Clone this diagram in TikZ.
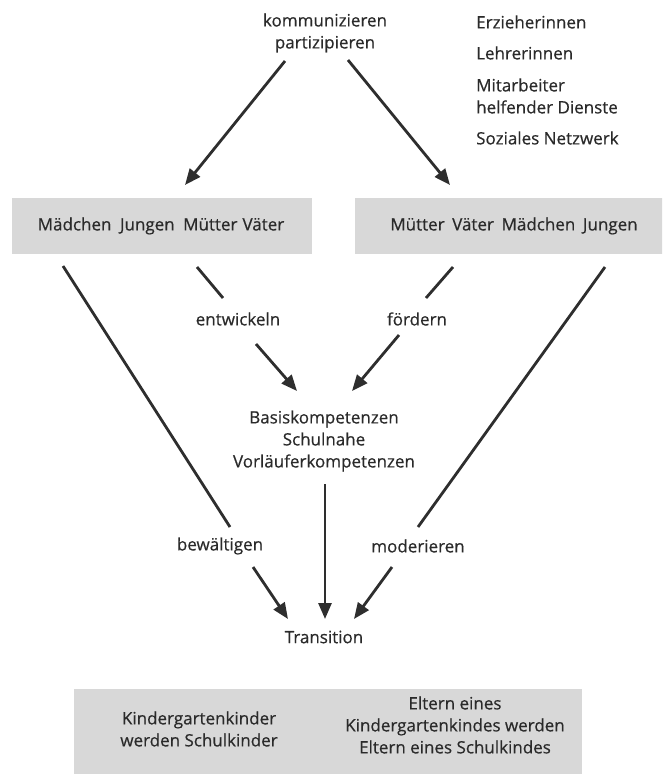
\documentclass[tikz,border=0pt]{standalone}
\usepackage{fontspec}
\setmainfont[FakeBold=0.5]{Open Sans}
\usetikzlibrary{arrows.meta}
\definecolor{txt}{HTML}{2A2A2A}
\definecolor{ln}{HTML}{2E2E2E}
\definecolor{boxgray}{HTML}{D8D8D8}
\begin{document}
\begin{tikzpicture}[x=1pt,y=-1pt,
  lbl/.style={font=\fontsize{17}{22}\selectfont, text=txt, inner sep=0pt, align=center},
  graybox/.style={fill=boxgray, draw=none, inner sep=0pt},
  conn/.style={draw=ln, line width=2.8pt},
  arr/.style={conn, -{Triangle[length=16pt,width=13pt]}}]
\useasboundingbox (0,0) rectangle (662,774);
\clip (0,0) rectangle (662,774);
% boxes
\node[graybox, minimum width=300pt, minimum height=56pt] (lbox) at (162,226) {};
\node[graybox, minimum width=318pt, minimum height=56pt] (rbox) at (514,226) {};
\node[graybox, minimum width=508pt, minimum height=96pt] (bbox) at (328,737) {};
% texts
\node[lbl] (ltext) at (161,226) {Mädchen\hspace{0.5em}Jungen\hspace{0.5em}Mütter\hspace{0.3em}Väter};
\node[lbl] (rtext) at (514,226) {Mütter\hspace{0.45em}Väter\hspace{0.45em}Mädchen\hspace{0.45em}Jungen};
\node[lbl] (top) at (325,33) {kommunizieren\\partizipieren};
\node[lbl, anchor=west] (erz) at (476,22) {Erzieherinnen};
\node[lbl, anchor=west] (leh) at (476,53) {Lehrerinnen};
\node[lbl, anchor=west, align=left] (mit) at (476,96) {Mitarbeiter\\helfender Dienste};
\node[lbl, anchor=west] (soz) at (476,138) {Soziales Netzwerk};
\node[lbl] (entw) at (238,319) {entwickeln};
\node[lbl] (foerd) at (417,319) {fördern};
\node[lbl] (basis) at (324,441) {Basiskompetenzen\\Schulnahe\\Vorläuferkompetenzen};
\node[lbl] (bew) at (220,546) {bewältigen};
\node[lbl] (mod) at (418,546) {moderieren};
\node[lbl] (trans) at (324,637) {Transition};
\node[lbl] (kinder) at (199,729) {Kindergartenkinder\\werden Schulkinder};
\node[lbl] (eltern) at (455,725) {Eltern eines\\Kindergartenkindes werden\\Eltern eines Schulkindes};
% connector end points
\coordinate (t1) at (285,61);  \coordinate (l1) at (185,185);
\coordinate (t2) at (348,60);  \coordinate (r1) at (450,185);
\coordinate (l2) at (63,266);  \coordinate (b1) at (230,527);
\coordinate (b2) at (253,567); \coordinate (tr1) at (288,619);
\coordinate (l3) at (197,267); \coordinate (e1) at (223,298);
\coordinate (e2) at (256,344); \coordinate (ba1) at (297,391);
\coordinate (r2) at (453,267); \coordinate (f1) at (426,298);
\coordinate (f2) at (399,335); \coordinate (ba2) at (352,391);
\coordinate (r3) at (605,267); \coordinate (m1) at (418,527);
\coordinate (m2) at (392,567); \coordinate (tr2) at (354,619);
\coordinate (ba3) at (325,484); \coordinate (tr3) at (325,619);
% connectors
\draw[arr] (t1) -- (l1);
\draw[arr] (t2) -- (r1);
\draw[conn] (l2) -- (b1);
\draw[arr] (b2) -- (tr1);
\draw[conn] (l3) -- (e1);
\draw[arr] (e2) -- (ba1);
\draw[conn] (r2) -- (f1);
\draw[arr] (f2) -- (ba2);
\draw[conn] (r3) -- (m1);
\draw[arr] (m2) -- (tr2);
\draw[arr] (ba3) -- (tr3);
\end{tikzpicture}
\end{document}
